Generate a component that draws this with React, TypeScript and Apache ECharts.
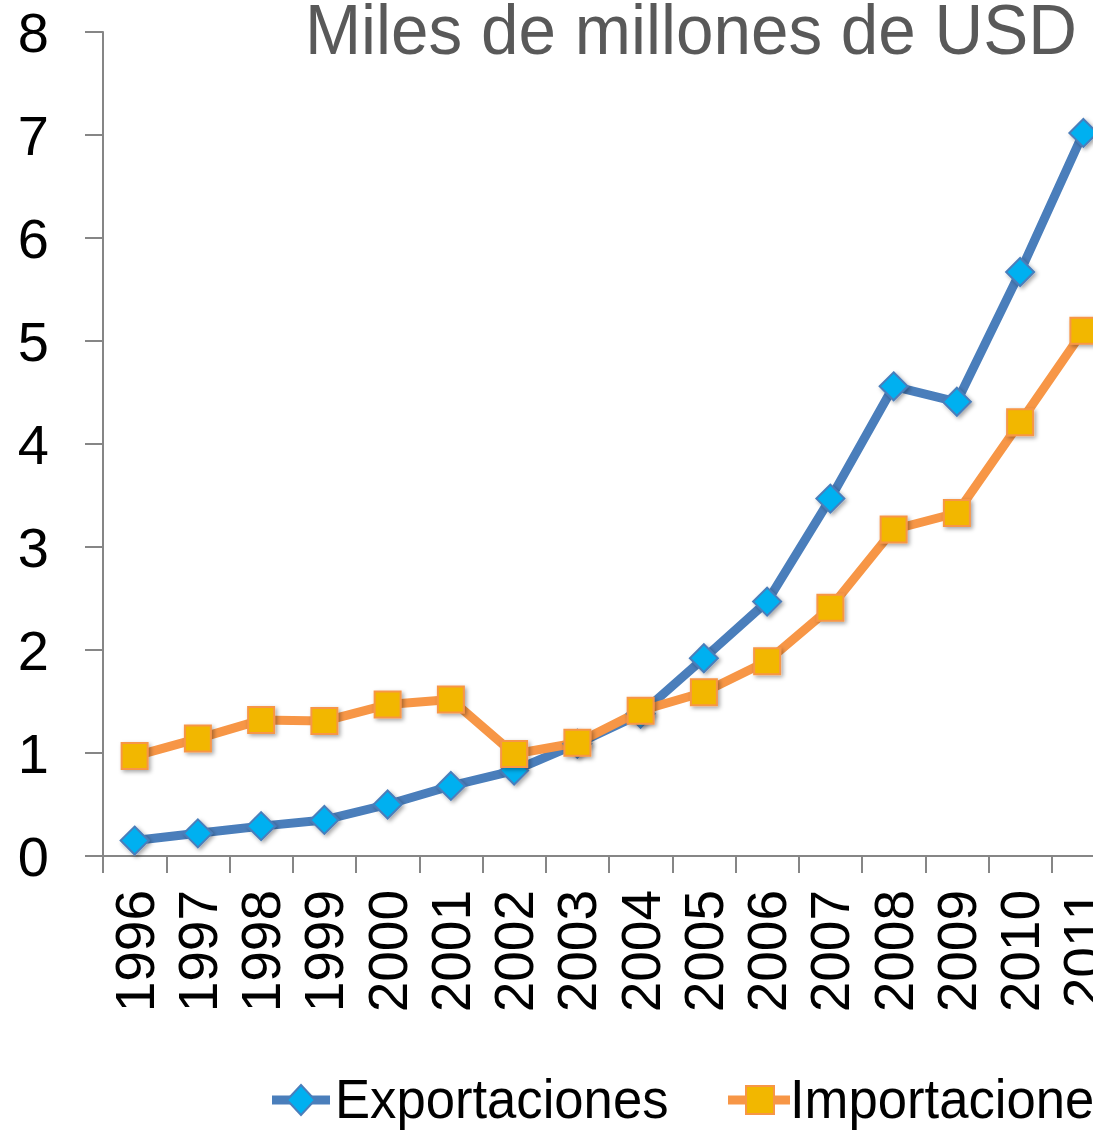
import React, { useEffect, useRef } from "react";
import * as echarts from "echarts";

const years = ["1996", "1997", "1998", "1999", "2000", "2001", "2002", "2003", "2004", "2005", "2006", "2007", "2008", "2009", "2010", "2011"];
const exportaciones = [0.15, 0.22, 0.29, 0.35, 0.5, 0.68, 0.83, 1.09, 1.38, 1.92, 2.47, 3.47, 4.56, 4.41, 5.67, 7.02];
const importaciones = [0.97, 1.14, 1.32, 1.31, 1.47, 1.52, 0.99, 1.1, 1.41, 1.59, 1.89, 2.41, 3.17, 3.33, 4.21, 5.1];
const seriesNames = ["Exportaciones", "Importaciones"];
const titleText = "Miles de millones de USD";

const SANS = "'Liberation Sans', Arial, sans-serif";
const BLUE_LINE = "#4a7ebb";
const BLUE_FILL = "#00b0f0";
const ORANGE_LINE = "#f79646";
const ORANGE_FILL = "#f2b700";

const markerShadow = {
  shadowBlur: 4,
  shadowColor: "rgba(0,0,0,0.35)",
  shadowOffsetX: 2,
  shadowOffsetY: 2,
};

export default function App() {
  const ref = useRef<HTMLDivElement>(null);
  useEffect(() => {
    document.body.style.margin = "0";
    const chart = echarts.init(ref.current!, null, { renderer: "svg" });
    chart.setOption({
      animation: false,
      backgroundColor: "#ffffff",
      graphic: [
        {
          type: "text",
          x: 1077,
          y: -6,
          scaleX: 0.95,
          style: {
            text: titleText,
            font: `71px ${SANS}`,
            fill: "#595959",
            align: "right",
            verticalAlign: "top",
          },
        },
        // legend: Exportaciones
        { type: "line", shape: { x1: 272, y1: 1100, x2: 330, y2: 1100 }, style: { stroke: BLUE_LINE, lineWidth: 9 } },
        {
          type: "polygon",
          shape: { points: [[301, 1085], [315, 1100], [301, 1115], [287, 1100]] },
          style: { fill: BLUE_FILL, stroke: BLUE_LINE, lineWidth: 2 },
        },
        {
          type: "text",
          x: 335,
          y: 1071,
          scaleX: 0.94,
          style: { text: seriesNames[0], font: `56px ${SANS}`, fill: "#000", align: "left", verticalAlign: "top" },
        },
        // legend: Importaciones
        { type: "line", shape: { x1: 728, y1: 1100, x2: 790, y2: 1100 }, style: { stroke: ORANGE_LINE, lineWidth: 9 } },
        {
          type: "rect",
          shape: { x: 746, y: 1086, width: 28, height: 28 },
          style: { fill: ORANGE_FILL, stroke: ORANGE_LINE, lineWidth: 2 },
        },
        {
          type: "text",
          x: 790,
          y: 1071,
          scaleX: 0.94,
          style: { text: seriesNames[1], font: `56px ${SANS}`, fill: "#000", align: "left", verticalAlign: "top" },
        },
      ],
      grid: { left: 103, top: 32, width: 1012, height: 824, containLabel: false },
      xAxis: {
        type: "category",
        data: years,
        boundaryGap: true,
        axisLine: { lineStyle: { color: "#868686", width: 2 } },
        axisTick: { show: true, length: 17, lineStyle: { color: "#868686", width: 2 } },
        axisLabel: { rotate: 90, fontFamily: SANS, fontSize: 55, color: "#000", margin: 34, interval: 0 },
      },
      yAxis: {
        type: "value",
        min: 0,
        max: 8,
        interval: 1,
        splitLine: { show: false },
        axisLine: { show: true, lineStyle: { color: "#868686", width: 2 } },
        axisTick: { show: true, length: 18, lineStyle: { color: "#868686", width: 2 } },
        axisLabel: { fontFamily: SANS, fontSize: 56, color: "#000", margin: 54 },
      },
      series: [
        {
          name: seriesNames[0],
          type: "line",
          data: exportaciones,
          symbol: "diamond",
          symbolSize: 28,
          lineStyle: { color: BLUE_LINE, width: 9 },
          itemStyle: { color: BLUE_FILL, borderColor: BLUE_LINE, borderWidth: 2, ...markerShadow },
        },
        {
          name: seriesNames[1],
          type: "line",
          data: importaciones,
          symbol: "rect",
          symbolSize: 26,
          lineStyle: { color: ORANGE_LINE, width: 9 },
          itemStyle: { color: ORANGE_FILL, borderColor: ORANGE_LINE, borderWidth: 2, ...markerShadow },
        },
      ],
    });
    return () => chart.dispose();
  }, []);
  return (
    <div style={{ position: "fixed", left: 0, top: 0, width: 1093, height: 1130, overflow: "hidden", background: "#fff" }}>
      <div ref={ref} style={{ width: 1140, height: 1130 }} />
    </div>
  );
}
